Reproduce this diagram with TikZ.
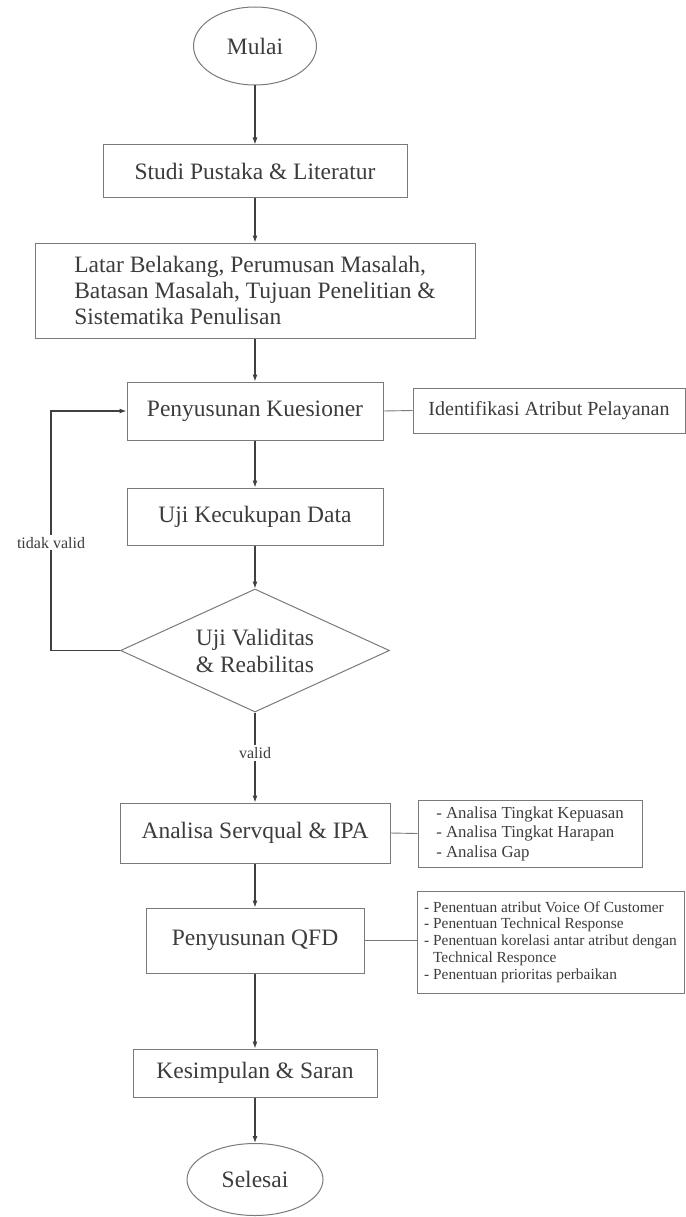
\documentclass[tikz,border=0pt]{standalone}
\usepackage{fontspec}
\setmainfont{Liberation Serif}
\usetikzlibrary{shapes.geometric,arrows.meta}
\definecolor{txt}{HTML}{3C3C3C}
\definecolor{edge}{HTML}{7A7A7A}
\definecolor{arrc}{HTML}{404040}
\begin{document}
\begin{tikzpicture}[x=1pt,y=1pt,
  every node/.style={text=txt},
  box/.style={draw=edge,line width=1pt,rectangle,inner sep=0pt,font=\fontsize{23.5}{26}\selectfont},
  term/.style={draw=edge,line width=1pt,ellipse,inner sep=0pt,font=\fontsize{23.5}{26}\selectfont},
  dec/.style={draw=edge,line width=1pt,diamond,aspect=2.19,inner sep=0pt,align=center,font=\fontsize{23.5}{27}\selectfont},
  note/.style={draw=edge,line width=0.9pt,rectangle,inner sep=0pt,align=left},
  arr/.style={draw=arrc,line width=1.1pt,-{Latex[length=7pt,width=5pt]}},
  conn/.style={draw=edge,line width=0.9pt},
  lbl/.style={fill=white,inner sep=2pt,font=\fontsize{16}{18}\selectfont}]
\useasboundingbox (0,0) rectangle (685,-1217);
\node[term,minimum width=123pt,minimum height=78pt] (mulai) at (255,-46) {Mulai};
\node[box,minimum width=304pt,minimum height=52pt] (studi) at (255,-171) {Studi Pustaka \& Literatur};
\node[box,minimum width=440pt,minimum height=95pt,align=left] (latar) at (255,-290.5) {Latar Belakang, Perumusan Masalah,\\Batasan Masalah, Tujuan Penelitian \&\\Sistematika Penulisan};
\node[box,minimum width=256pt,minimum height=58pt] (kues) at (255,-411) {Penyusunan Kuesioner};
\node[note,minimum width=272pt,minimum height=45pt,font=\fontsize{20}{22}\selectfont] (ident) at (549,-410.5) {Identifikasi Atribut Pelayanan};
\node[box,minimum width=256pt,minimum height=57pt] (uji) at (255,-516.5) {Uji Kecukupan Data};
\node[dec,minimum width=269pt,minimum height=123pt] (valid) at (255,-650.5) {Uji Validitas\\\& Reabilitas};
\node[box,minimum width=270pt,minimum height=60pt] (servq) at (255,-833) {Analisa Servqual \& IPA};
\node[note,minimum width=224pt,minimum height=67pt,font=\fontsize{16.8}{19.5}\selectfont] (notea) at (530,-833.5) {- Analisa Tingkat Kepuasan\\- Analisa Tingkat Harapan\\- Analisa Gap};
\node[box,minimum width=218pt,minimum height=65pt] (qfd) at (255,-940.5) {Penyusunan QFD};
\node[note,minimum width=267pt,minimum height=102pt,font=\fontsize{15.4}{16.8}\selectfont] (noteq) at (550.5,-942) {- Penentuan atribut Voice Of Customer\\- Penentuan Technical Response\\- Penentuan korelasi antar atribut dengan\\\hphantom{- }Technical Responce\\- Penentuan prioritas perbaikan};
\node[box,minimum width=244pt,minimum height=48pt] (kes) at (255,-1073) {Kesimpulan \& Saran};
\node[term,minimum width=136pt,minimum height=72pt] (selesai) at (255,-1179.5) {Selesai};
\coordinate (lb) at (51,-650.5);
\coordinate (lt) at (51,-411);
\draw[arr] (mulai) -- (studi);
\draw[arr] (studi) -- (latar);
\draw[arr] (latar) -- (kues);
\draw[arr] (kues) -- (uji);
\draw[arr] (uji) -- (valid);
\draw[arr] (valid) -- node[lbl,pos=0.45] {valid} (servq);
\draw[arr] (valid.west) -- (lb) -- node[lbl,pos=0.45] {tidak valid} (lt) -- (kues.west);
\draw[arr] (servq) -- (qfd);
\draw[arr] (qfd) -- (kes);
\draw[arr] (kes) -- (selesai);
\draw[conn] (kues.east) -- (ident.west);
\draw[conn] (servq.east) -- (notea.west);
\draw[conn] (qfd.east) -- (noteq.west |- qfd.east);
\end{tikzpicture}
\end{document}
